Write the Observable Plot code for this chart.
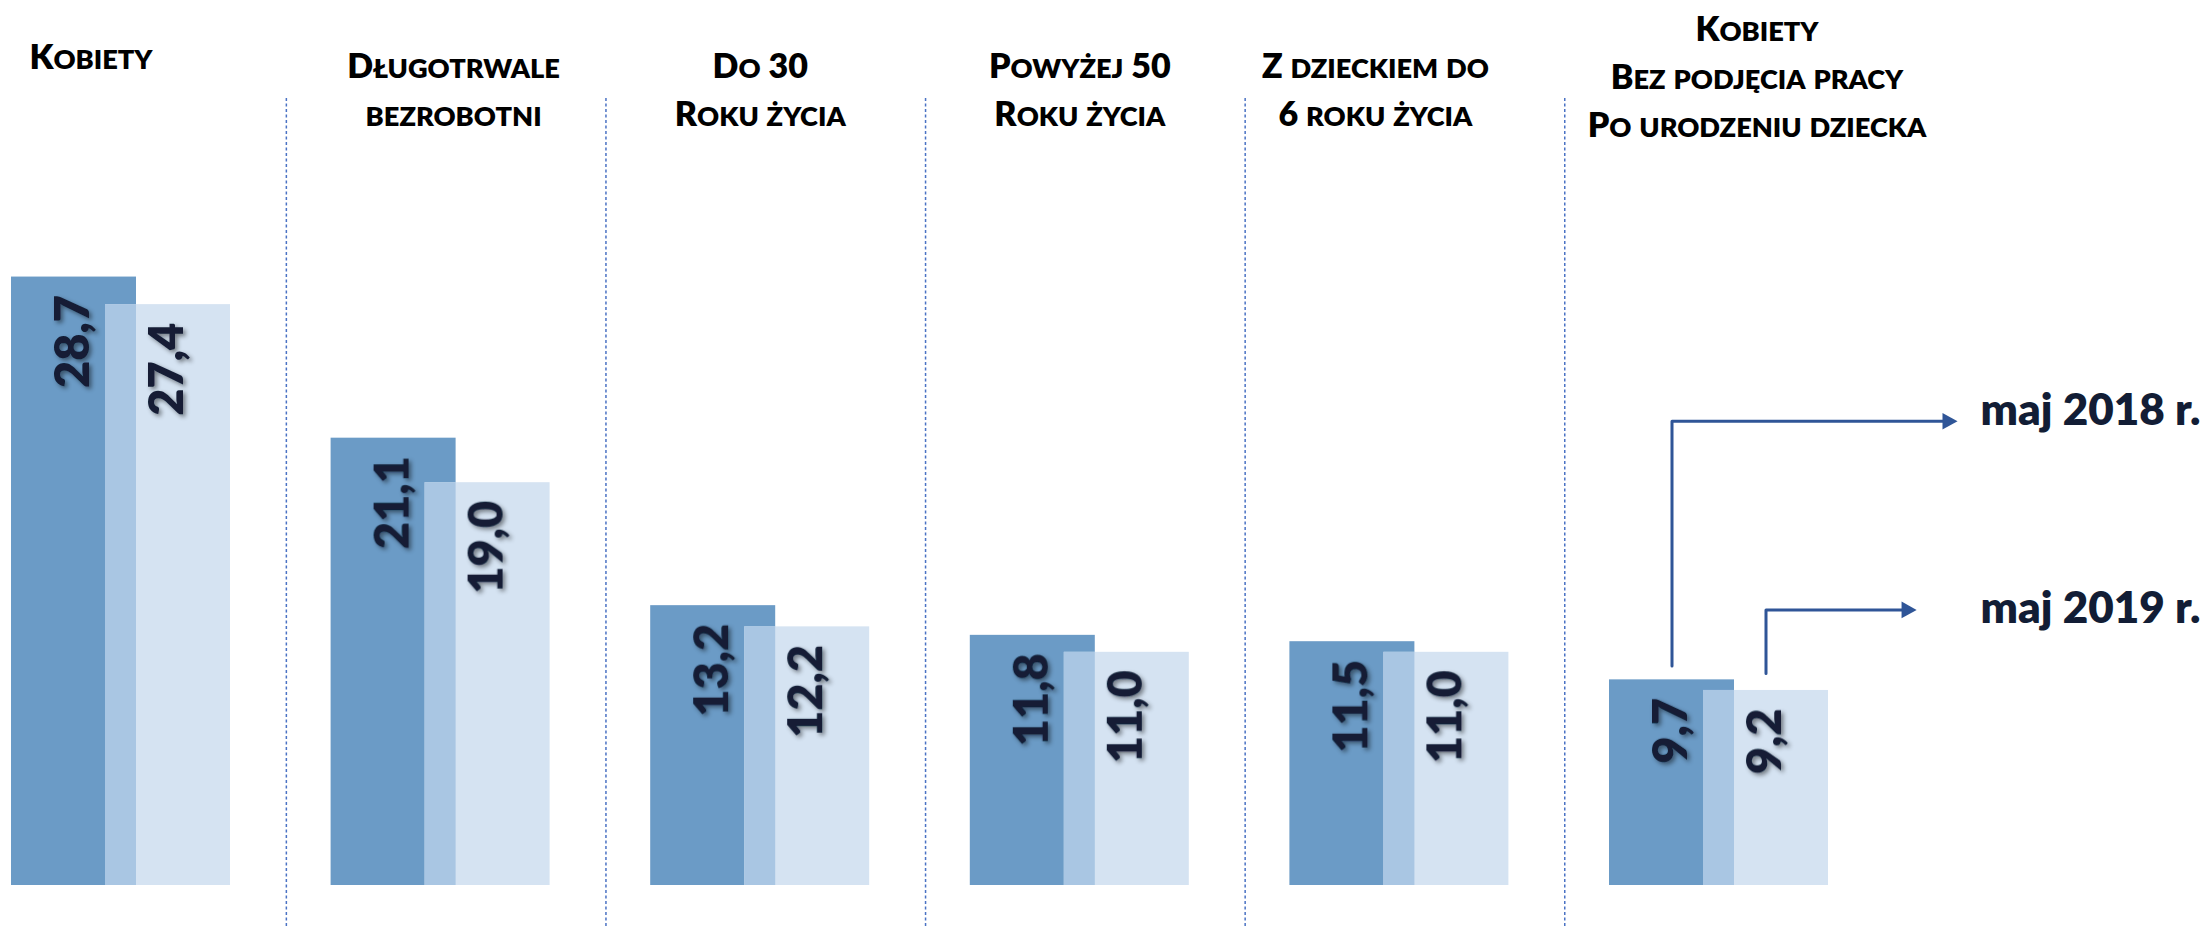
<!DOCTYPE html>
<html>
<head>
<meta charset="utf-8">
<script src="https://cdn.jsdelivr.net/npm/d3@7"></script>
<script src="https://cdn.jsdelivr.net/npm/@observablehq/plot@0.6"></script>
<style>
  html, body { margin: 0; padding: 0; background: #ffffff; }
  #chart { width: 2206px; height: 927px; }
</style>
</head>
<body>
<div id="chart"></div>
<script>
// ---- data ----
const categories = [
  "Kobiety",
  "Długotrwale\nbezrobotni",
  "Do 30\nRoku życia",
  "Powyżej 50\nRoku życia",
  "Z dzieckiem do\n6 roku życia",
  "Kobiety\nBez podjęcia pracy\nPo urodzeniu dziecka"
];
const may2018 = [28.7, 21.1, 13.2, 11.8, 11.5, 9.7];
const may2019 = [27.4, 19.0, 12.2, 11.0, 11.0, 9.2];
const seriesNames = ["maj 2018 r.", "maj 2019 r."];

// ---- layout ----
const W = 2206, H = 927;
const pxPerGroup = 319.6, leftPx = 11;
const zeroPx = 885, pxPerUnit = 21.2;
const BW = 125 / pxPerGroup;   // bar width in group units
const SH = 94 / pxPerGroup;    // offset of the 2019 bar

const dark = "#6b9bc6", light = "#d5e3f2", mid = "#a9c6e3";
const ink = "#121d35", arrowCol = "#2f5597";

const data = categories.map((c, i) => ({i, cat: c, v18: may2018[i], v19: may2019[i]}));
const fmt = v => v.toFixed(1).replace(".", ",");

// callouts (legend) pointing from last group's bars
const last = data[data.length - 1];
const callouts = [
  {name: seriesNames[0], x0: last.i + BW / 2, y0: last.v18 + 0.65, level: 21.9, tip: 6.089, ly: 22.4},
  {name: seriesNames[1], x0: last.i + SH + BW / 2, y0: last.v19 + 0.8, level: 13.0, tip: 5.961, ly: 13.05}
];
const calloutPts = callouts.flatMap(c => [
  {name: c.name, x: c.x0, y: c.y0},
  {name: c.name, x: c.x0, y: c.level},
  {name: c.name, x: c.tip - 0.03, y: c.level}
]);
const arrowHead = {
  draw(ctx, size) {
    const s = Math.sqrt(size);
    ctx.moveTo(0, 0);
    ctx.lineTo(-s, -s * 0.55);
    ctx.lineTo(-s, s * 0.55);
    ctx.closePath();
  }
};

const HFS = 34;
const headerStyle = {
  frameAnchor: "top", lineAnchor: "top", text: "cat", x: d => d.i + (SH + BW) / 2,
  fontSize: HFS, fontWeight: 800, fill: "#000",
  lineHeight: 48 / HFS
};
// per-header horizontal nudges and top offsets (px)
const headerDx = [-30, 13, 0, 0, -24, 38];
const headerDy = [34, 43, 43, 43, 43, 6];

const chart = Plot.plot({
  width: W, height: H,
  marginTop: 0, marginBottom: 0, marginLeft: 0, marginRight: 0,
  style: {fontFamily: "Lato, 'Open Sans', sans-serif", background: "#ffffff"},
  x: {domain: [-leftPx / pxPerGroup, (W - leftPx) / pxPerGroup], axis: null},
  y: {domain: [-(H - zeroPx) / pxPerUnit, zeroPx / pxPerUnit], axis: null},
  marks: [
    Plot.ruleX(d3.range(1, categories.length), {
      x: i => i - 0.14, stroke: "#4a72c4", strokeWidth: 1.5, strokeDasharray: "3,2.5", insetTop: 98
    }),
    Plot.rectY(data, {x1: d => d.i, x2: d => d.i + BW, y: "v18", fill: dark}),
    Plot.rectY(data, {x1: d => d.i + SH, x2: d => d.i + SH + BW, y: "v19", fill: light}),
    Plot.rectY(data, {x1: d => d.i + SH, x2: d => d.i + BW, y: d => Math.min(d.v18, d.v19), fill: mid}),
    Plot.text(data, {
      x: d => d.i + BW / 2, y: "v18", text: d => fmt(d.v18), rotate: -90, textAnchor: "end", dy: 18,
      fontSize: 47, fontWeight: 800, fill: ink
    }),
    Plot.text(data, {
      x: d => d.i + SH + BW / 2, y: "v19", text: d => fmt(d.v19), rotate: -90, textAnchor: "end", dy: 18,
      fontSize: 47, fontWeight: 800, fill: ink
    }),
    ...data.map(d => Plot.text([d], {...headerStyle, dx: headerDx[d.i], dy: headerDy[d.i]})),
    Plot.line(calloutPts, {x: "x", y: "y", z: "name", stroke: arrowCol, strokeWidth: 3, curve: "linear"}),
    Plot.dot(callouts, {x: "tip", y: "level", symbol: arrowHead, r: 8.5, fill: arrowCol, stroke: "none"}),
    Plot.text(callouts, {
      x: 6.161, y: "ly", text: "name", textAnchor: "start", fontSize: 44, fontWeight: 800, fill: ink
    })
  ]
});

const ns = "http://www.w3.org/2000/svg";
const defs = document.createElementNS(ns, "defs");
defs.innerHTML = '<filter id="lblShadow" x="-30%" y="-30%" width="160%" height="160%">' +
  '<feDropShadow dx="2.5" dy="2.5" stdDeviation="2" flood-color="#000" flood-opacity="0.45"/></filter>';
chart.insertBefore(defs, chart.firstChild);

// small caps for headers: lowercase letters shown as smaller capitals
function smallCaps(node) {
  const s = node.textContent;
  while (node.firstChild) node.removeChild(node.firstChild);
  const runs = [];
  for (const ch of s) {
    const small = ch !== ch.toUpperCase();
    if (runs.length && runs[runs.length - 1].small === small) runs[runs.length - 1].t += ch;
    else runs.push({small, t: ch});
  }
  for (const r of runs) {
    const t = document.createElementNS(ns, "tspan");
    t.textContent = r.small ? r.t.toUpperCase() : r.t;
    if (r.small) t.setAttribute("font-size", (HFS * 0.8).toFixed(1));
    node.appendChild(t);
  }
}
const headerKeys = new Set(categories.map(c => c.replace(/\n/g, "")));
const valueKeys = new Set([...may2018, ...may2019].map(fmt));
Array.from(chart.querySelectorAll("text")).forEach(text => {
  const content = text.textContent;
  if (headerKeys.has(content)) {
    const lines = Array.from(text.children).filter(n => n.tagName.toLowerCase() === "tspan");
    if (lines.length) lines.forEach(smallCaps);
    else smallCaps(text);
  } else if (valueKeys.has(content) && text.parentNode) {
    text.parentNode.setAttribute("filter", "url(#lblShadow)");
  }
});

document.getElementById("chart").appendChild(chart);
</script>
</body>
</html>
